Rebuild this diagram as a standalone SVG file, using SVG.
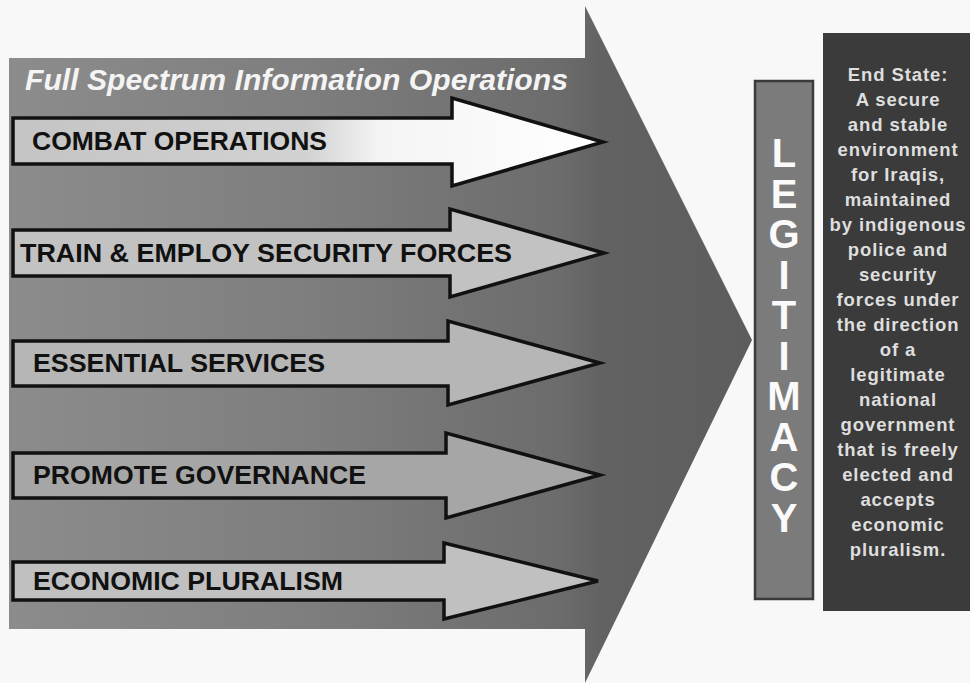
<svg xmlns="http://www.w3.org/2000/svg" width="970" height="683" viewBox="0 0 970 683">
<defs>
<linearGradient id="bigG" gradientUnits="userSpaceOnUse" x1="9" y1="0" x2="752" y2="0">
<stop offset="0" stop-color="#8c8c8c"/>
<stop offset="0.4" stop-color="#7e7e7e"/>
<stop offset="0.74" stop-color="#6c6c6c"/>
<stop offset="0.8" stop-color="#626262"/>
<stop offset="1" stop-color="#5d5d5d"/>
</linearGradient>
<linearGradient id="combatG" gradientUnits="userSpaceOnUse" x1="13" y1="0" x2="603" y2="0">
<stop offset="0" stop-color="#c4c4c4"/>
<stop offset="0.5" stop-color="#d2d2d2"/>
<stop offset="0.62" stop-color="#f4f4f4"/>
<stop offset="1" stop-color="#ffffff"/>
</linearGradient>
<style>
.arr{stroke:#111;stroke-width:3.5;stroke-linejoin:miter}
.lbl{font-family:"Liberation Sans",Arial,sans-serif;font-weight:bold;font-size:26.5px;fill:#111}
.title{font-family:"Liberation Sans",Arial,sans-serif;font-weight:bold;font-style:italic;font-size:29.5px;fill:#f4f4f4}
.leg{font-family:"Liberation Sans",Arial,sans-serif;font-weight:bold;font-size:40px;fill:#fafafa;text-anchor:middle}
.es{font-family:"Liberation Sans",Arial,sans-serif;font-weight:bold;font-size:18.5px;fill:#dedede;text-anchor:middle;letter-spacing:0.9px}
</style>
</defs>
<rect x="0" y="0" width="970" height="683" fill="#f8f8f8"/>

<g id="full-spectrum">
<polygon points="9,58 585,58 585,6 752,340 585,683 585,629 9,629" fill="url(#bigG)"/>
<text class="title" x="25" y="90" textLength="543" lengthAdjust="spacingAndGlyphs">Full Spectrum Information Operations</text>
</g>

<g id="combat-operations">
<polygon class="arr" points="13,118 452,118 452,98 603,142 452,186 452,164 13,164" fill="url(#combatG)"/>
<text class="lbl" x="32" y="150" textLength="295" lengthAdjust="spacingAndGlyphs">COMBAT OPERATIONS</text>
</g>

<g id="train-employ">
<polygon class="arr" points="13,230 450,230 450,209 604,253 450,297 450,276 13,276" fill="#c2c2c2"/>
<text class="lbl" x="20" y="262" textLength="492" lengthAdjust="spacingAndGlyphs">TRAIN &amp; EMPLOY SECURITY FORCES</text>
</g>

<g id="essential-services">
<polygon class="arr" points="13,341 448,341 448,321 600,363 448,405 448,386 13,386" fill="#b6b6b6"/>
<text class="lbl" x="33" y="372" textLength="292" lengthAdjust="spacingAndGlyphs">ESSENTIAL SERVICES</text>
</g>

<g id="promote-governance">
<polygon class="arr" points="13,453 446,453 446,433 600,475 446,518 446,498 13,498" fill="#a6a6a6"/>
<text class="lbl" x="33" y="484" textLength="333" lengthAdjust="spacingAndGlyphs">PROMOTE GOVERNANCE</text>
</g>

<g id="economic-pluralism">
<polygon class="arr" points="13,562 444,562 444,543 598,581 444,619 444,600 13,600" fill="#c0c0c0"/>
<text class="lbl" x="33" y="590" textLength="310" lengthAdjust="spacingAndGlyphs">ECONOMIC PLURALISM</text>
</g>

<g id="legitimacy">
<rect x="755" y="81" width="58" height="518" fill="#7b7b7b" stroke="#3a3a3a" stroke-width="2.5"/>
<text class="leg" x="784" y="167">L</text>
<text class="leg" x="784" y="207.5">E</text>
<text class="leg" x="784" y="248">G</text>
<text class="leg" x="784" y="288.5">I</text>
<text class="leg" x="784" y="329">T</text>
<text class="leg" x="784" y="369.5">I</text>
<text class="leg" x="784" y="410">M</text>
<text class="leg" x="784" y="450.5">A</text>
<text class="leg" x="784" y="491">C</text>
<text class="leg" x="784" y="531.5">Y</text>
</g>

<g id="end-state">
<rect x="823" y="33" width="150" height="578" fill="#3b3b3b"/>
<text class="es" x="898" y="81">End State:</text>
<text class="es" x="898" y="106">A secure</text>
<text class="es" x="898" y="131">and stable</text>
<text class="es" x="898" y="156">environment</text>
<text class="es" x="898" y="181">for Iraqis,</text>
<text class="es" x="898" y="206">maintained</text>
<text class="es" x="898" y="231">by indigenous</text>
<text class="es" x="898" y="256">police and</text>
<text class="es" x="898" y="281">security</text>
<text class="es" x="898" y="306">forces under</text>
<text class="es" x="898" y="331">the direction</text>
<text class="es" x="898" y="356">of a</text>
<text class="es" x="898" y="381">legitimate</text>
<text class="es" x="898" y="406">national</text>
<text class="es" x="898" y="431">government</text>
<text class="es" x="898" y="456">that is freely</text>
<text class="es" x="898" y="481">elected and</text>
<text class="es" x="898" y="506">accepts</text>
<text class="es" x="898" y="531">economic</text>
<text class="es" x="898" y="556">pluralism.</text>
</g>
</svg>
